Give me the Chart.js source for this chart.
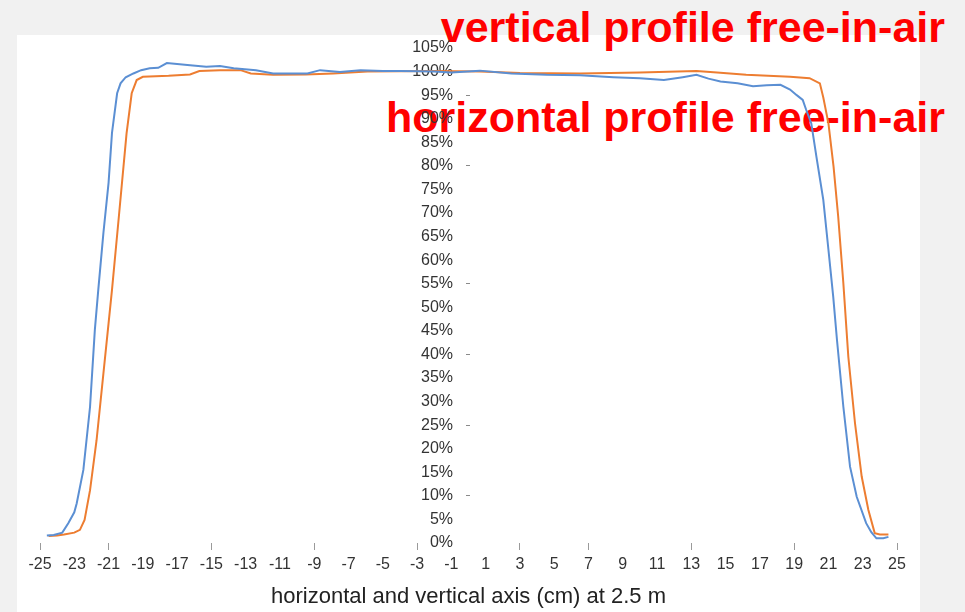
<!DOCTYPE html>
<html>
<head>
<meta charset="utf-8">
<script src="https://cdn.jsdelivr.net/npm/chart.js@4.4.1/dist/chart.umd.min.js"></script>
<style>
  html, body { margin: 0; padding: 0; }
  body { width: 965px; height: 612px; background: #f1f1f1; position: relative; overflow: hidden; font-family: 'Liberation Sans', Arial, sans-serif; }
  .panel { position: absolute; left: 17px; top: 35px; width: 903px; height: 577px; background: #ffffff; }
  .tag { position: absolute; right: 20px; font: bold 43px/43px 'Liberation Sans', Arial, sans-serif; color: #ff0000; white-space: nowrap; }
  #tagV { top: 6px; }
  #tagH { top: 96px; }
  #chart { position: absolute; left: 0; top: 0; }
</style>
</head>
<body>
<div class="panel"></div>
<div class="tag" id="tagV">vertical profile free-in-air</div>
<div class="tag" id="tagH">horizontal profile free-in-air</div>
<canvas id="chart" width="965" height="612"></canvas>
<script>
// blue curve
const vertX = [-24.6, -24.2, -23.7, -23.35, -23.0, -22.86, -22.47, -22.08, -21.8, -21.6, -21.3, -21.0, -20.8, -20.5, -20.3, -20.0,
  -19.55, -19.1, -18.6, -18.1, -17.6, -17.0, -16.4, -15.3, -14.5, -13.7, -12.4, -11.4, -10.4, -9.4, -8.66, -7.5, -6.3, -5.0, -4.0,
  -2.0, -1.0, 0.67, 2.5, 4.56, 6.5, 8.45, 10.0, 11.4, 12.5, 13.3, 14.0, 14.7, 15.7, 16.6, 17.4, 18.2, 18.76, 19.15, 19.5, 19.7,
  20.0, 20.3, 20.7, 21.0, 21.28, 21.5, 21.87, 22.26, 22.65, 23.2, 23.5, 23.8, 24.2, 24.5];
const vertY = [1.6, 1.7, 2.2, 4.2, 6.5, 8.4, 15.5, 28.9, 45.2, 53.7, 65.8, 76.4, 87, 95.4, 97.5, 98.8,
  99.6, 100.3, 100.7, 100.8, 101.8, 101.6, 101.4, 101.0, 101.2, 100.7, 100.3, 99.6, 99.6, 99.6, 100.3, 99.9, 100.3, 100.1, 100.1,
  100.0, 99.8, 100.2, 99.6, 99.3, 99.2, 98.8, 98.6, 98.2, 98.8, 99.3, 98.5, 97.9, 97.5, 96.9, 97.1, 97.2, 96.2, 95.0, 94.0, 91.9,
  89, 81.9, 72.8, 62.2, 52.2, 43, 28.9, 16.2, 9.8, 4.2, 2.3, 1.0, 1.0, 1.3];

// orange curve
const horizX = [-24.5, -24.0, -23.6, -23.0, -22.67, -22.4, -22.08, -21.7, -21.3, -21.0, -20.8, -20.4, -19.95, -19.65, -19.36,
  -19.0, -17.5, -16.25, -15.7, -14.5, -13.3, -12.7, -11.4, -9.5, -7.9, -5.9, -2.1, 0.67, 3.0, 6.5, 10.0, 13.3, 14.5, 16.2,
  18.76, 19.9, 20.5, 20.7, 21.0, 21.3, 21.57, 21.87, 22.16, 22.55, 22.94, 23.33, 23.7, 24.0, 24.5];
const horizY = [1.5, 1.6, 1.8, 2.2, 2.8, 4.9, 11.2, 21.8, 36, 46.6, 53.7, 69.2, 86.9, 95.4, 98.2,
  98.9, 99.1, 99.4, 100.1, 100.3, 100.3, 99.6, 99.3, 99.4, 99.6, 100.0, 100.1, 100.0, 99.7, 99.6, 99.8, 100.1, 99.8, 99.3,
  98.9, 98.6, 97.5, 94.5, 89, 79.8, 69.2, 55.1, 39.5, 25.4, 14.1, 7.0, 2.1, 1.8, 1.8];

// tick marks that show up in the picture
const xMarkedTicks = [-25, -21, -15, -9, -3, 3, 7, 13, 19, 25];
const yMarkedTicks = [95, 80, 55, 40, 25, 10];

const toPoints = (xs, ys) => xs.map((x, i) => ({ x, y: ys[i] }));
const FONT = "'Liberation Sans', Arial, sans-serif";

new Chart(document.getElementById('chart'), {
    type: 'line',
    data: {
        datasets: [
            {
                label: 'vertical profile free-in-air',
                data: toPoints(vertX, vertY),
                borderColor: '#5b8fd3',
                borderWidth: 2,
                pointRadius: 0,
                tension: 0,
            },
            {
                label: 'horizontal profile free-in-air',
                data: toPoints(horizX, horizY),
                borderColor: '#ed7d31',
                borderWidth: 2,
                pointRadius: 0,
                tension: 0,
            },
        ],
    },
    options: {
        responsive: false,
        animation: false,
        layout: { padding: { left: 40, right: 68, top: 48, bottom: 69 } },
        plugins: {
            legend: { display: false },
            tooltip: { enabled: false },
        },
        scales: {
            x: {
                type: 'linear',
                min: -25,
                max: 25,
                position: { y: 0 },
                border: { display: false },
                grid: {
                    drawOnChartArea: false,
                    drawTicks: true,
                    tickLength: 7,
                    tickColor: (ctx) => xMarkedTicks.includes(ctx.tick && ctx.tick.value) ? '#9a9a9a' : 'rgba(0,0,0,0)',
                },
                ticks: {
                    stepSize: 2,
                    autoSkip: false,
                    maxRotation: 0,
                    padding: 5,
                    color: '#333333',
                    font: { family: FONT, size: 16 },
                },
                title: {
                    display: true,
                    text: 'horizontal and vertical axis (cm) at 2.5 m',
                    color: '#222222',
                    font: { family: FONT, size: 22 },
                    padding: { top: 5, bottom: 0 },
                },
            },
            y: {
                type: 'linear',
                min: 0,
                max: 105,
                // labels end a little left of the x = 0 line
                position: { x: -0.9 },
                border: { display: false },
                grid: {
                    drawOnChartArea: false,
                    drawTicks: true,
                    tickLength: -17,
                    tickBorderDash: [0, 13, 4, 100],
                    tickColor: (ctx) => yMarkedTicks.includes(ctx.tick && ctx.tick.value) ? '#8a8a8a' : 'rgba(0,0,0,0)',
                },
                ticks: {
                    stepSize: 5,
                    autoSkip: false,
                    padding: 0,
                    color: '#333333',
                    font: { family: FONT, size: 16 },
                    callback: (v) => v + '%',
                },
            },
        },
    },
});
</script>
</body>
</html>
